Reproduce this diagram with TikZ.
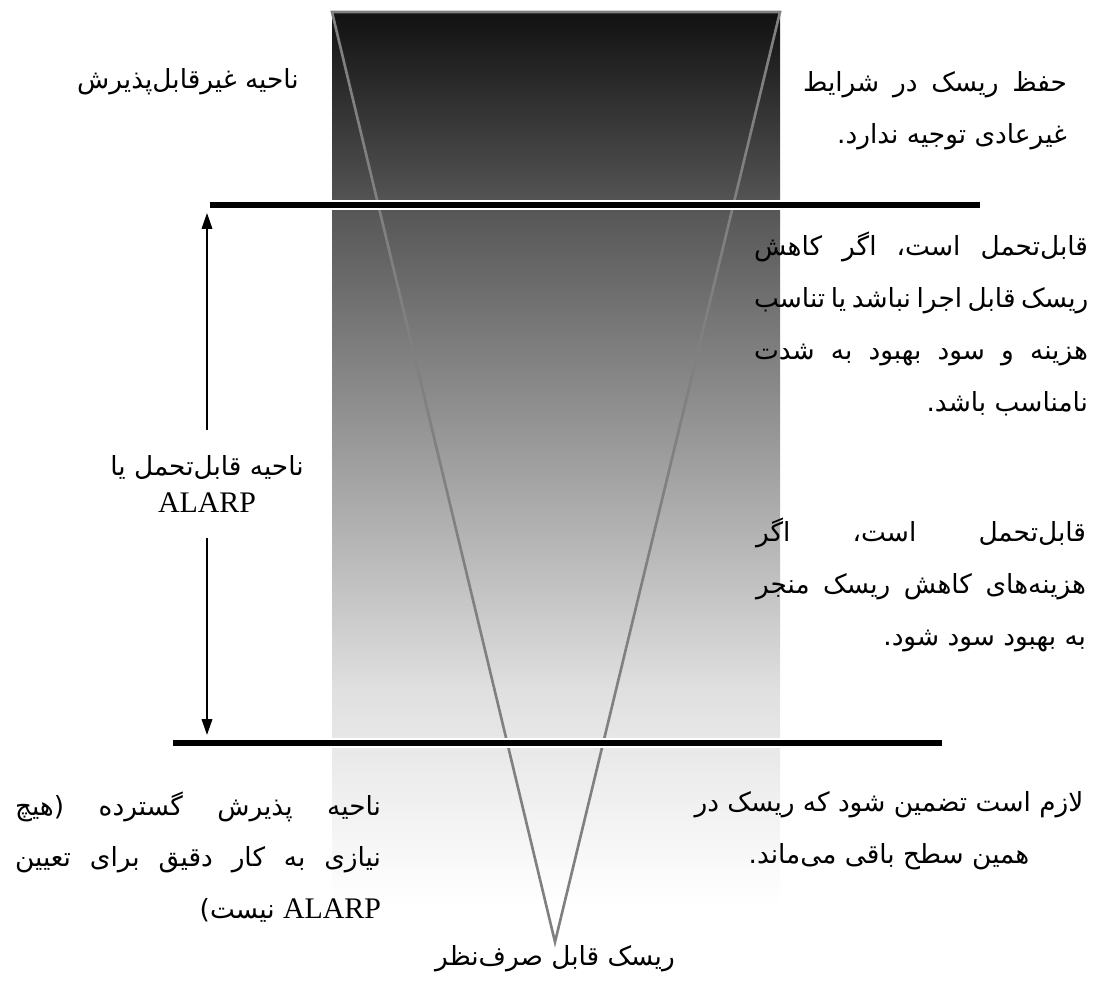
\documentclass[tikz,border=0pt]{standalone}
\usepackage{fontspec}
\setmainfont{Liberation Serif}
\newfontfamily\farsi[Script=Arabic]{DejaVu Sans}
\newfontfamily\latinfont{Liberation Serif}
\TeXXeTstate=1
\usepackage{xcolor}
\usepackage{tikz}
\usetikzlibrary{positioning, arrows.meta}

\newlength{\pxu}
\setlength{\pxu}{0.02cm}
\newcommand{\jrow}[2]{\hbox to #1\pxu{#2}}
\newcommand{\rrow}[2]{\hbox to #1\pxu{\hfill#2}}
\newcommand{\alarp}{\beginL{\latinfont\fontsize{17}{20}\selectfont ALARP}\endL}

\definecolor{vgray}{HTML}{808080}
\definecolor{bandA}{HTML}{111111}
\definecolor{bandB}{HTML}{555555}
\definecolor{bandC}{HTML}{9B9B9B}
\definecolor{bandD}{HTML}{E0E0E0}
\pgfdeclareverticalshading{riskband}{100bp}{color(0bp)=(white); color(25bp)=(white);
    color(37bp)=(bandD); color(50.5bp)=(bandC); color(64.2bp)=(bandB);
    color(75bp)=(bandA); color(100bp)=(bandA)}

\begin{document}
\begin{tikzpicture}[x=0.02cm, y=-0.02cm,
        farsitext/.style={font=\farsi\fontsize{15}{29.5}\selectfont, inner sep=0pt},
        level/.style={line width=3.4pt, preaction={draw=white, line width=6pt}},
        vline/.style={draw=vgray, line width=1.5pt, line join=miter},
        span/.style={-{Triangle[length=9pt, width=6pt]}, line width=0.9pt},
    ]
    \useasboundingbox (0,0) rectangle (1098,983);

    % Shaded band
    \shade[shading=riskband] (332,12) rectangle (780,905);

    % Risk triangle
    \coordinate (vL) at (332,12);
    \coordinate (vR) at (780,12);
    \coordinate (vB) at (555,942);
    \draw[vline] (vL) -- (vB) -- (vR) -- cycle;

    % Region borders
    \coordinate (hiL) at (210,205);
    \coordinate (hiR) at (980,205);
    \coordinate (loL) at (173,743);
    \coordinate (loR) at (942,743);
    \draw[level] (hiL) -- (hiR);
    \draw[level] (loL) -- (loR);

    % Region labels
    \node[farsitext] (unacc) at (188,82) {\beginR ناحیه غیرقابل‌پذیرش\endR};
    \node[farsitext, align=center, inner ysep=14pt] (tol) at (207,484)
        {\beginR ناحیه قابل‌تحمل یا\endR\\[-8pt] \alarp};
    \node[farsitext, align=right] (broad) at (198,857)
        {\jrow{366}{\beginR ناحیه پذیرش گسترده (هیچ\endR}\\
         \jrow{366}{\beginR نیازی به کار دقیق برای تعیین\endR}\\
         \rrow{366}{\beginR\alarp{} نیست)\endR}};
    \node[farsitext, below=2pt of vB] (negl) {\beginR ریسک قابل صرف‌نظر\endR};

    % Conditions
    \node[farsitext, align=right] (noJust) at (935,111)
        {\jrow{264}{\beginR حفظ ریسک در شرایط\endR}\\
         \rrow{264}{\beginR غیرعادی توجیه ندارد.\endR}};
    \node[farsitext, align=right] (tolA) at (921,324)
        {\jrow{334}{\beginR قابل‌تحمل است، اگر کاهش\endR}\\
         \jrow{334}{\beginR ریسک قابل اجرا نباشد یا تناسب\endR}\\
         \jrow{334}{\beginR هزینه و سود بهبود به شدت\endR}\\
         \rrow{334}{\beginR نامناسب باشد.\endR}};
    \node[farsitext, align=right] (tolB) at (921,585)
        {\jrow{330}{\beginR قابل‌تحمل است، اگر\endR}\\
         \jrow{330}{\beginR هزینه‌های کاهش ریسک منجر\endR}\\
         \rrow{330}{\beginR به بهبود سود شود.\endR}};
    \node[farsitext, align=center] (keep) at (889,831)
        {\beginR لازم است تضمین شود که ریسک در\endR\\
         \beginR همین سطح باقی می‌ماند.\endR};

    % ALARP span
    \coordinate (tolTop) at (207,213);
    \coordinate (tolBot) at (207,735);
    \draw[span] (tol.north) -- (tolTop);
    \draw[span] (tol.south) -- (tolBot);
\end{tikzpicture}
\end{document}
